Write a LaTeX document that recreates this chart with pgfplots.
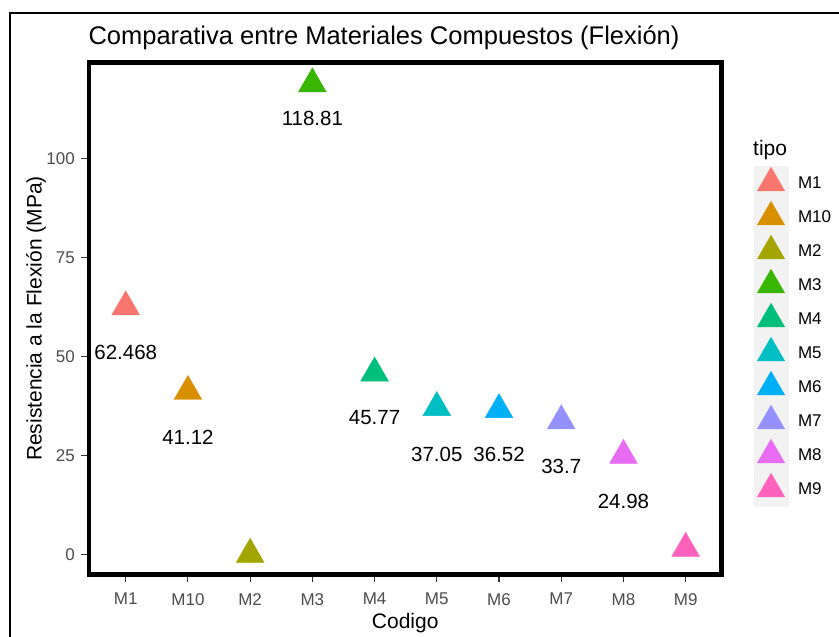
\documentclass[border=0pt]{standalone}
\usepackage{pgfplots}
\pgfplotsset{compat=1.18}
\usepackage{fontspec}
\setmainfont{Liberation Sans}
\definecolor{c1}{HTML}{F8766D}
\definecolor{c2}{HTML}{D89000}
\definecolor{c3}{HTML}{A3A500}
\definecolor{c4}{HTML}{39B600}
\definecolor{c5}{HTML}{00BF7D}
\definecolor{c6}{HTML}{00BFC4}
\definecolor{c7}{HTML}{00B0F6}
\definecolor{c8}{HTML}{9590FF}
\definecolor{c9}{HTML}{E76BF3}
\definecolor{c10}{HTML}{FF62BC}
\definecolor{legbg}{HTML}{F2F2F2}
\definecolor{grey30}{HTML}{4D4D4D}
\definecolor{grey20}{HTML}{333333}
\pgfplotsset{
  tri/.style={only marks, mark=triangle*, mark size=16bp,
    mark options={solid, draw=none, fill=#1}, color=#1,
    legend image code/.code={%
      \fill[legbg] (0bp,-16.8bp) rectangle (33.6bp,16.8bp);
      \fill[#1] (16.8bp,15.7bp) -- (30.4bp,-7.85bp) -- (3.2bp,-7.85bp) -- cycle;
    }},
}
\begin{document}
\begin{tikzpicture}
\useasboundingbox (0,0) rectangle (839bp,637bp);
\fill[white] (0,0) rectangle (839bp,637bp);
\draw[line width=2bp] (9.7bp,0) -- (9.7bp,624.2bp) -- (839bp,624.2bp);
\node[anchor=base west, inner sep=0pt, font=\fontsize{25.5bp}{30bp}\selectfont] at (88.3bp,592bp) {Comparativa entre Materiales Compuestos (Flexión)};
\begin{axis}[
  at={(89bp,62.5bp)}, anchor=south west,
  scale only axis, width=632.5bp, height=512bp,
  xmin=-0.59, xmax=9.576, ymin=-5.1, ymax=124.2,
  clip=false,
  axis line style={line width=4.3bp, black},
  xtick={0,...,9},
  xticklabels={M1,M10,M2,M3,M4,M5,M6,M7,M8,M9},
  ytick={0,25,50,75,100},
  tick pos=left, tick align=outside,
  major tick length=8bp,
  tick style={line width=1.1bp, grey20},
  /pgf/number format/assume math mode=true,
  ticklabel style={font=\fontsize{17bp}{20bp}\selectfont, text=grey30, inner sep=0pt},
  yticklabel style={xshift=-6bp},
  xticklabel style={yshift=-10.5bp},
  xlabel={Codigo},
  ylabel={Resistencia a la Flexión (MPa)},
  label style={font=\fontsize{21bp}{25bp}\selectfont, inner sep=0pt},
  xlabel style={at={(axis description cs:0.5,-0.1045)}, anchor=base},
  ylabel style={at={(axis description cs:-0.0748,0.5)}, anchor=base, rotate=0},
  legend style={at={(axis description cs:1.0514,0.7979)}, anchor=north west,
    draw=none, fill=none, inner sep=0pt, outer sep=0pt, row sep=0pt, column sep=10bp,
    font=\fontsize{17bp}{20bp}\selectfont, nodes={inner sep=0pt}},
  legend cell align=left,
]
\addplot[tri=c1] coordinates {(0,62.468)}; \addlegendentry{M1}
\addplot[tri=c2] coordinates {(1,41.12)}; \addlegendentry{M10}
\addplot[tri=c3] coordinates {(2,0)}; \addlegendentry{M2}
\addplot[tri=c4] coordinates {(3,118.81)}; \addlegendentry{M3}
\addplot[tri=c5] coordinates {(4,45.77)}; \addlegendentry{M4}
\addplot[tri=c6] coordinates {(5,37.05)}; \addlegendentry{M5}
\addplot[tri=c7] coordinates {(6,36.52)}; \addlegendentry{M6}
\addplot[tri=c8] coordinates {(7,33.7)}; \addlegendentry{M7}
\addplot[tri=c9] coordinates {(8,24.98)}; \addlegendentry{M8}
\addplot[tri=c10] coordinates {(9,1.5)}; \addlegendentry{M9}
\begin{scope}[every node/.style={font=\fontsize{20.5bp}{24bp}\selectfont, inner sep=0pt, text=black}]
\node at (axis cs:0,51.09) {62.468};
\node at (axis cs:1,29.62) {41.12};
\node at (axis cs:3,109.96) {118.81};
\node at (axis cs:4,34.55) {45.77};
\node at (axis cs:5,25.33) {37.05};
\node at (axis cs:6,25.2) {36.52};
\node at (axis cs:7,22.17) {33.7};
\node at (axis cs:8,13.46) {24.98};
\end{scope}
\end{axis}
\node[anchor=base west, inner sep=0pt, font=\fontsize{21bp}{25bp}\selectfont] at (753bp,481bp) {tipo};
\end{tikzpicture}
\end{document}
